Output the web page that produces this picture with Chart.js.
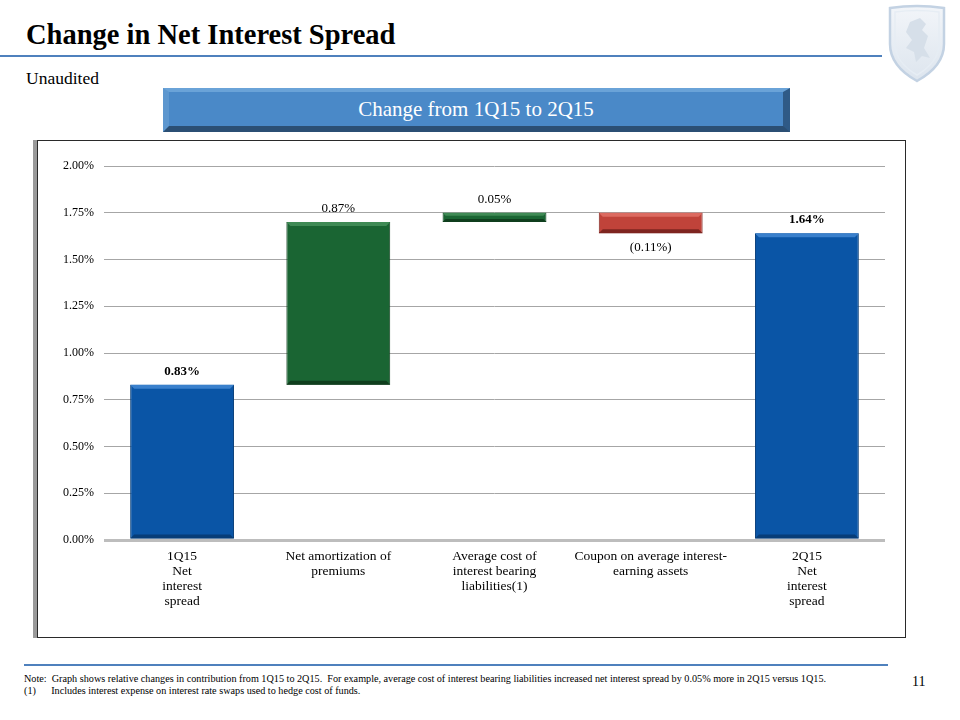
<!DOCTYPE html>
<html>
<head>
<meta charset="utf-8">
<script src="https://cdn.jsdelivr.net/npm/chart.js@4"></script>
<style>
  html, body { margin:0; padding:0; width:960px; height:720px; background:#fff; overflow:hidden; }
  body { position:relative; font-family:"Liberation Serif", "DejaVu Serif", serif; color:#000; }
  .abs { position:absolute; }
  #title { left:26px; top:19px; font-size:28.5px; font-weight:bold; white-space:nowrap; }
  #titleLine { left:0; top:55px; width:882px; height:2px; background:#4f81bd; }
  #sub { left:26px; top:68px; font-size:17.5px; }
  #banner { left:163px; top:88px; width:627px; height:44px; box-sizing:border-box;
    background:#4a89c8; border-top:4px solid #6aa3d8; border-left:6px solid #5d97cf;
    border-right:7px solid #2f5a86; border-bottom:6px solid #2b4f74;
    color:#fff; font-size:21px; text-align:center; line-height:35px; }
  #box { left:37px; top:140px; width:869px; height:498px; box-sizing:border-box;
    border:1.5px solid #2a2a2a; box-shadow:-4px 0 0 #9a9a9a; background:#fff; }
  #footLine { left:24px; top:664px; width:864px; height:2px; background:#4f81bd; }
  #note { left:24px; top:673px; font-size:10.2px; line-height:12px; white-space:nowrap; }
  #page { left:912px; top:674px; font-size:14px; }
  #logo { left:886px; top:4px; }
</style>
</head>
<body>
<div id="title" class="abs">Change in Net Interest Spread</div>
<div id="titleLine" class="abs"></div>
<div id="sub" class="abs">Unaudited</div>
<svg id="logo" class="abs" width="62" height="80" viewBox="0 0 62 80">
  <defs>
    <linearGradient id="lg" x1="0" y1="0" x2="0" y2="1">
      <stop offset="0" stop-color="#f2f5f9"/><stop offset="1" stop-color="#dde5ee"/>
    </linearGradient>
  </defs>
  <path d="M4 4 Q31 0 58 4 L58 40 Q58 62 31 77 Q4 62 4 40 Z" fill="url(#lg)" stroke="#c3d2e3" stroke-width="2.5"/>
  <path d="M9 8 Q31 5 53 8 L53 40 Q53 58 31 71 Q9 58 9 40 Z" fill="none" stroke="#e6edf4" stroke-width="1.5"/>
  <path d="M24 18 L34 14 L40 20 L36 26 L42 32 L38 44 L44 54 L36 52 L30 58 L28 48 L20 44 L26 36 L20 28 Z" fill="#d6dfe9"/>
</svg>
<div id="banner" class="abs">Change from 1Q15 to 2Q15</div>
<div id="box" class="abs"><canvas id="c" width="866" height="495"></canvas></div>
<div id="footLine" class="abs"></div>
<div id="note" class="abs">Note:&nbsp; Graph shows relative changes in contribution from 1Q15 to 2Q15.&nbsp; For example, average cost of interest bearing liabilities increased net interest spread by 0.05% more in 2Q15 versus 1Q15.<br>(1)&nbsp;&nbsp;&nbsp;&nbsp;&nbsp; Includes interest expense on interest rate swaps used to hedge cost of funds.</div>
<div id="page" class="abs">11</div>

<script>
// ---- data ----
const categories = [
  ["1Q15", "Net", "interest", "spread"],
  ["Net amortization of", "premiums"],
  ["Average cost of", "interest bearing", "liabilities(1)"],
  ["Coupon on average interest-", "earning assets"],
  ["2Q15", "Net", "interest", "spread"]
];
const barKinds = ["total", "change", "change", "change", "total"];
const barValues = [0.83, 0.87, 0.05, -0.11, 1.64];
const valueLabels = ["0.83%", "0.87%", "0.05%", "(0.11%)", "1.64%"];
const yTicks = [0, 0.25, 0.5, 0.75, 1.0, 1.25, 1.5, 1.75, 2.0];

// floating ranges built from the values (waterfall)
const ranges = [];
let running = 0;
barValues.forEach((v, i) => {
  if (barKinds[i] === "total") { ranges.push([0, v]); running = v; }
  else { ranges.push([running, running + v]); running = running + v; }
});

const fillColors = barValues.map((v, i) =>
  barKinds[i] === "total" ? "#0a55a6" : (v >= 0 ? "#1a6533" : "#c0433a"));
const edgeColors = barValues.map((v, i) =>
  barKinds[i] === "total" ? "#073d78" : (v >= 0 ? "#0f3e1d" : "#7e2520"));
const topColors = barValues.map((v, i) =>
  barKinds[i] === "total" ? "#3a80cc" : (v >= 0 ? "#3f8a55" : "#dc6a60"));

const SERIF = '"Liberation Serif", "DejaVu Serif", serif';

const bevelPlugin = {
  id: 'bevel',
  afterDatasetsDraw(chart) {
    const ctx = chart.ctx;
    const meta = chart.getDatasetMeta(0);
    meta.data.forEach((bar, i) => {
      const left = bar.x - bar.width / 2, right = bar.x + bar.width / 2;
      const top = Math.min(bar.y, bar.base), bottom = Math.max(bar.y, bar.base);
      const h = bottom - top;
      const b = Math.min(4, h / 3);
      ctx.save();
      ctx.fillStyle = topColors[i];
      ctx.beginPath();
      ctx.moveTo(left, top); ctx.lineTo(right, top); ctx.lineTo(right - b, top + b); ctx.lineTo(left + b, top + b);
      ctx.closePath(); ctx.fill();
      ctx.fillStyle = edgeColors[i];
      ctx.beginPath();
      ctx.moveTo(left, bottom); ctx.lineTo(right, bottom); ctx.lineTo(right - b, bottom - b); ctx.lineTo(left + b, bottom - b);
      ctx.closePath(); ctx.fill();
      ctx.restore();
    });
  }
};

const labelPlugin = {
  id: 'valLabels',
  afterDatasetsDraw(chart) {
    const ctx = chart.ctx;
    const meta = chart.getDatasetMeta(0);
    ctx.save();
    ctx.fillStyle = '#000';
    ctx.textAlign = 'center';
    meta.data.forEach((bar, i) => {
      const top = Math.min(bar.y, bar.base), bottom = Math.max(bar.y, bar.base);
      ctx.font = (barKinds[i] === 'total' ? 'bold ' : '') + '13px ' + SERIF;
      if (barValues[i] < 0) {
        ctx.textBaseline = 'top';
        ctx.fillText(valueLabels[i], bar.x, bottom + 8);
      } else {
        ctx.textBaseline = 'bottom';
        ctx.fillText(valueLabels[i], bar.x, top - 7);
      }
    });
    ctx.restore();
  }
};

new Chart(document.getElementById('c'), {
  type: 'bar',
  data: {
    labels: categories,
    datasets: [{
      data: ranges,
      backgroundColor: fillColors,
      borderColor: edgeColors,
      borderWidth: 1,
      borderSkipped: false,
      barPercentage: 0.665,
      categoryPercentage: 1.0
    }]
  },
  options: {
    responsive: false,
    animation: false,
    devicePixelRatio: 1,
    layout: { padding: { top: 25, right: 19, left: 0, bottom: 0 } },
    plugins: { legend: { display: false }, tooltip: { enabled: false } },
    scales: {
      x: {
        grid: { display: false },
        border: { display: false },
        ticks: {
          color: '#000', font: { family: SERIF, size: 13.5, lineHeight: 1.12 },
          padding: 1, maxRotation: 0, autoSkip: false
        },
        afterFit: s => { s.height = 96; }
      },
      y: {
        min: 0, max: 2.0,
        afterBuildTicks: s => { s.ticks = yTicks.map(v => ({ value: v })); },
        grid: {
          drawTicks: false,
          color: ctx => ctx.tick && ctx.tick.value === 0 ? '#bdbdbd' : '#a6a6a6',
          lineWidth: ctx => ctx.tick && ctx.tick.value === 0 ? 3 : 1
        },
        border: { display: false },
        ticks: {
          color: '#000', font: { family: SERIF, size: 12 }, padding: 10,
          callback: v => Number(v).toFixed(2) + '%'
        },
        afterFit: s => { s.width = 66; }
      }
    }
  },
  plugins: [bevelPlugin, labelPlugin]
});
</script>
</body>
</html>
